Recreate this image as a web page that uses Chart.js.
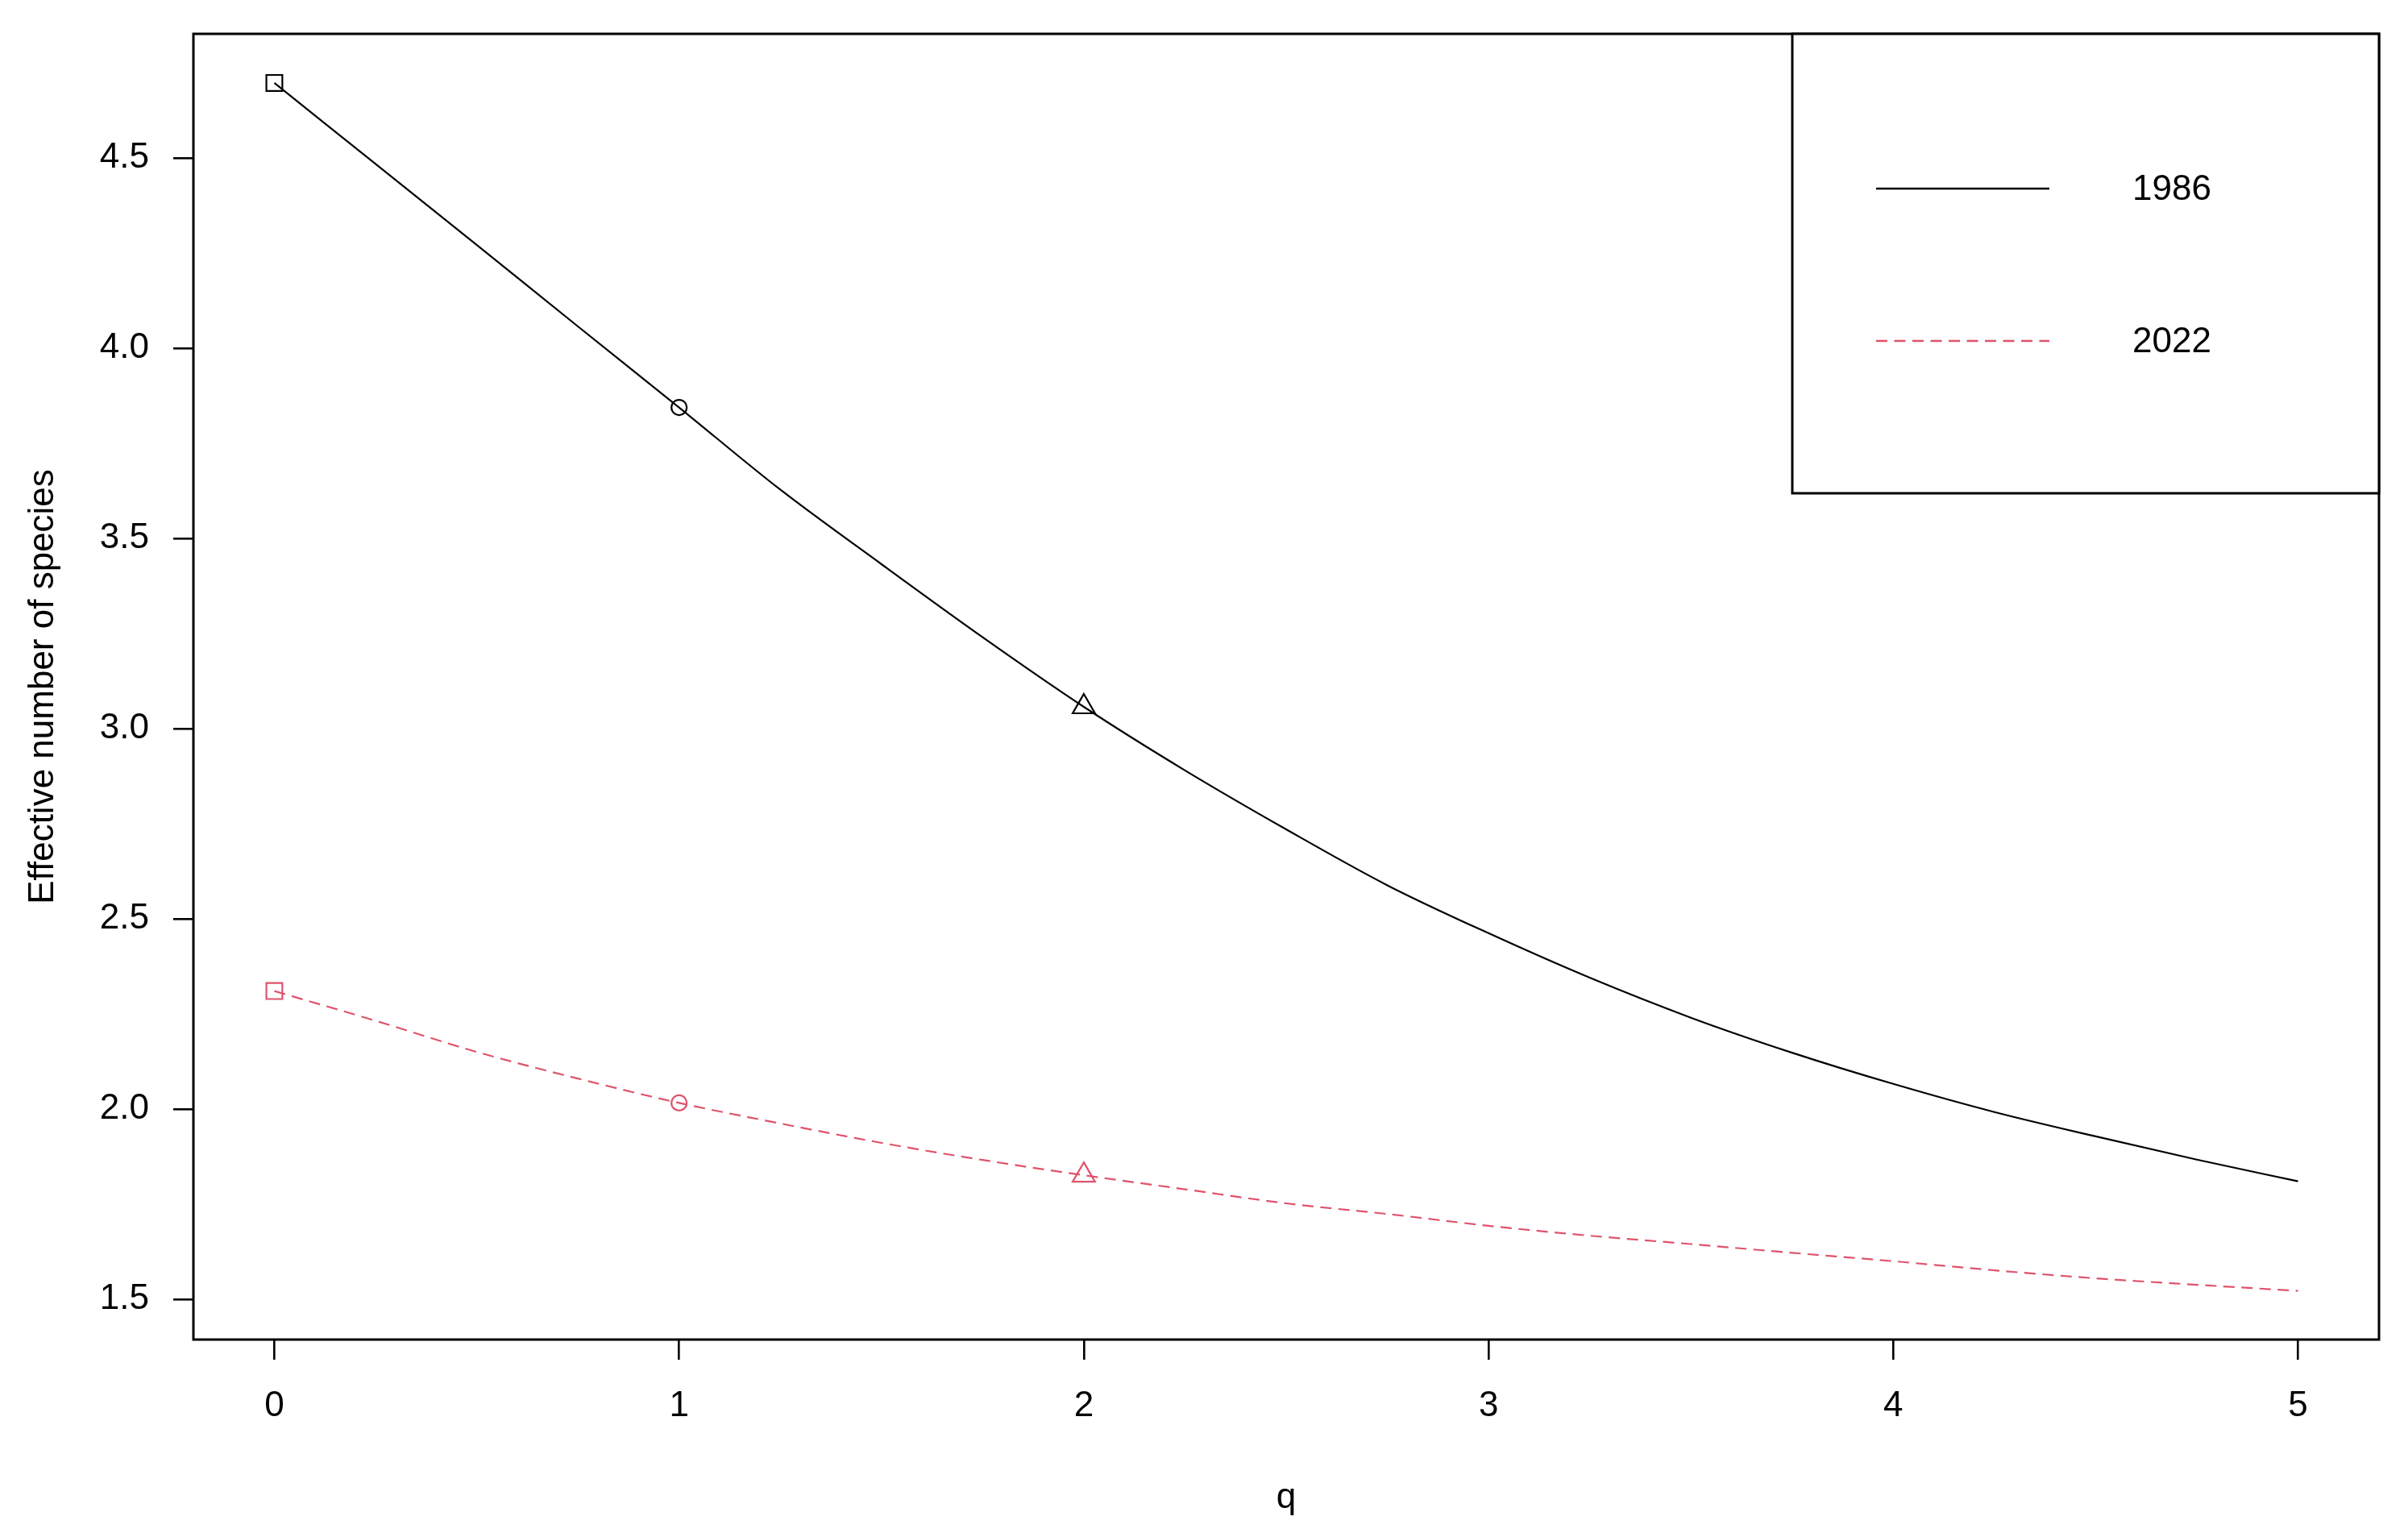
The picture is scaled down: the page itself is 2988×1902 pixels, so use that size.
<!DOCTYPE html>
<html><head><meta charset="utf-8">
<script src="https://cdn.jsdelivr.net/npm/chart.js@4.4.1/dist/chart.umd.min.js"></script>
<style>html,body{margin:0;padding:0;background:#fff;overflow:hidden}#wrap{width:2988px;height:1902px}</style>
</head><body><div id="wrap"><canvas id="c" width="2988" height="1902"></canvas></div>
<script>
// ---- data ----
const qValues    = [0, 0.25, 0.5, 0.75, 1, 1.25, 1.5, 1.75, 2, 2.25, 2.5, 2.75, 3, 3.25, 3.5, 3.75, 4, 4.25, 4.5, 4.75, 5];
const series1986 = [4.697, 4.484, 4.271, 4.057, 3.844, 3.628, 3.432, 3.24, 3.057, 2.89, 2.735, 2.588, 2.462, 2.345, 2.24, 2.148, 2.066, 1.992, 1.928, 1.867, 1.810];
const series2022 = [2.310, 2.232, 2.150, 2.080, 2.016, 1.962, 1.911, 1.866, 1.826, 1.789, 1.752, 1.724, 1.693, 1.667, 1.645, 1.622, 1.600, 1.576, 1.555, 1.538, 1.522];
const seriesLabels = ['1986', '2022'];
const markerQ = [0, 1, 2];
const xTicks = [0, 1, 2, 3, 4, 5];
const yTicks = [1.5, 2.0, 2.5, 3.0, 3.5, 4.0, 4.5];
const xTitle = 'q';
const yTitle = 'Effective number of species';

// ---- styles ----
const FONT = "'Liberation Sans', Arial, sans-serif";
const colors = ['#000000', '#DF536B'];
const dashes = [[], [14, 8.5]];
const markerStyles = ['rect', 'circle', 'triangle'];
const markerRadii = [14, 9.5, 16];

const allSeries = [series1986, series2022];
const pts = s => qValues.map((q, i) => ({x: q, y: s[i]}));
const markerPts = s => markerQ.map(q => ({x: q, y: s[qValues.indexOf(q)]}));

const datasets = [];
allSeries.forEach((s, k) => {
  datasets.push({
    label: seriesLabels[k], data: pts(s), borderColor: colors[k], borderWidth: 2.2,
    borderDash: dashes[k], pointRadius: 0, cubicInterpolationMode: 'monotone', fill: false
  });
});
allSeries.forEach((s, k) => {
  datasets.push({
    label: seriesLabels[k] + ' markers', data: markerPts(s), showLine: false,
    borderColor: colors[k], backgroundColor: 'rgba(0,0,0,0)', pointBackgroundColor: 'rgba(0,0,0,0)',
    pointBorderColor: colors[k], pointBorderWidth: 2.2, pointStyle: markerStyles,
    pointRadius: markerRadii, pointHoverRadius: markerRadii
  });
});

const boxLegend = {
  id: 'boxLegend',
  afterDatasetsDraw(chart) {
    const {ctx, chartArea: a} = chart;
    ctx.save();
    ctx.strokeStyle = '#000'; ctx.lineWidth = 3;
    ctx.strokeRect(a.left, a.top, a.right - a.left, a.bottom - a.top);
    // legend box
    const lx = a.right - 728, ly = a.top, lw = 728, lh = 570;
    ctx.fillStyle = '#fff';
    ctx.fillRect(lx, ly, lw, lh);
    ctx.strokeRect(lx, ly, lw, lh);
    const rows = [192, 381];
    seriesLabels.forEach((lab, k) => {
      const y = ly + rows[k];
      ctx.beginPath();
      ctx.strokeStyle = colors[k]; ctx.lineWidth = 2.6; ctx.setLineDash(dashes[k]);
      ctx.moveTo(lx + 104, y); ctx.lineTo(lx + 319, y); ctx.stroke();
      ctx.setLineDash([]);
      ctx.fillStyle = '#000'; ctx.font = '44px ' + FONT;
      ctx.textAlign = 'left'; ctx.textBaseline = 'middle';
      ctx.fillText(lab, lx + 422, y + 2);
    });
    ctx.restore();
  }
};

new Chart(document.getElementById('c'), {
  type: 'line',
  data: {datasets},
  plugins: [boxLegend],
  options: {
    responsive: false, animation: false, devicePixelRatio: 1,
    layout: {padding: {top: 42, right: 36, left: 0, bottom: 0}},
    plugins: {legend: {display: false}, tooltip: {enabled: false}},
    scales: {
      x: {
        type: 'linear', min: -0.2, max: 5.2,
        afterBuildTicks: s => { s.ticks = xTicks.map(v => ({value: v})); },
        afterFit: s => { s.height = 240; s.paddingLeft = 0; s.paddingRight = 0; },
        grid: {drawOnChartArea: false, drawTicks: true, tickLength: 25, color: '#000', lineWidth: 2.6},
        border: {display: false},
        ticks: {autoSkip: false, maxRotation: 0, padding: 31, color: '#000', font: {size: 44, family: FONT},
                callback: v => String(v)},
        title: {display: true, text: xTitle, color: '#000', font: {size: 44, family: FONT}, padding: {top: 0, bottom: 17}}
      },
      y: {
        type: 'linear', min: 1.394, max: 4.826,
        afterBuildTicks: s => { s.ticks = yTicks.map(v => ({value: v})); },
        afterFit: s => { s.width = 240; s.paddingTop = 0; s.paddingBottom = 0; },
        grid: {drawOnChartArea: false, drawTicks: true, tickLength: 25, color: '#000', lineWidth: 2.6},
        border: {display: false},
        ticks: {autoSkip: false, padding: 30, color: '#000', font: {size: 44, family: FONT},
                callback: v => Number(v).toFixed(1)},
        title: {display: true, text: yTitle, color: '#000', font: {size: 44, family: FONT}, padding: {top: 27, bottom: 0}}
      }
    }
  }
});
</script></body></html>
